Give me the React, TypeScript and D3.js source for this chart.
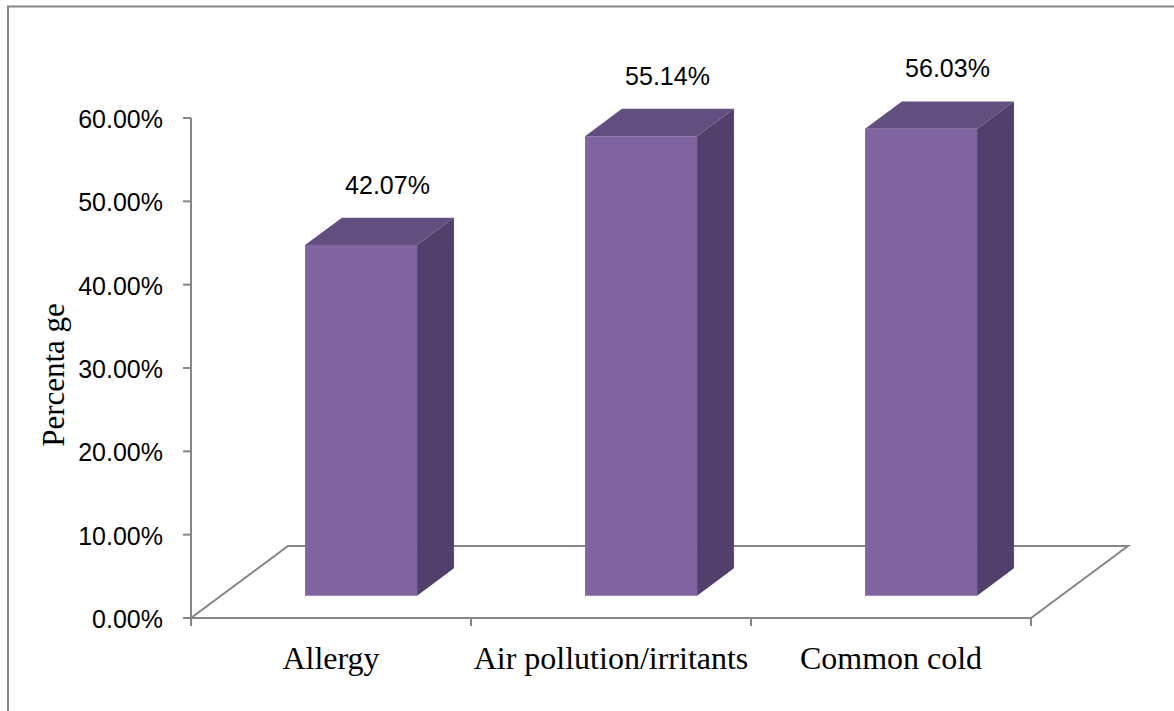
import React from 'react';
import * as d3 from 'd3';

// chart data
const categories = ['Allergy', 'Air pollution/irritants', 'Common cold'];
const values = [0.4207, 0.5514, 0.5603];
const yTicks = [0, 0.1, 0.2, 0.3, 0.4, 0.5, 0.6];
const yTitle = 'Percenta ge';

const W = 1174;
const H = 711;

// plot frame (front plane) and floor depth vector
const left = 191;
const right = 1031;
const bottom = 618;
const top = 118;
const depthX = 97;
const depthY = -72;
const zFront = 0.31;
const zBack = 0.69;

const App = () => {
  const x = d3.scaleBand<string>()
    .domain(categories)
    .range([left, right])
    .paddingInner(0.6)
    .paddingOuter(0.3);

  const y = d3.scaleLinear().domain([0, 0.6]).range([bottom, top]);
  const fmt = d3.format('.2%');

  // oblique projection: category x, value v, depth z (0..1)
  const proj = (px: number, v: number, z: number): [number, number] =>
    [px + z * depthX, y(v) + z * depthY];

  const axisColor = '#868686';
  const bw = x.bandwidth();

  const floor = [
    proj(left, 0, 0), proj(right, 0, 0), proj(right, 0, 1), proj(left, 0, 1)
  ];

  const poly = (pts: [number, number][]) => pts.map(p => p.join(',')).join(' ');

  const catTicks = [left, ...categories.map(c => (x(c) as number) + bw + x.step() * 0.3)];

  return (
    <svg width={W} height={H} style={{ position: 'absolute', left: 0, top: 0, background: '#fff' }}>
      <rect x={8} y={6.5} width={W + 20} height={H + 20} fill="#fff" stroke={axisColor} strokeWidth={2} />

      {/* floor */}
      <polygon points={poly(floor)} fill="none" stroke={axisColor} strokeWidth={2} strokeLinejoin="miter" />

      {/* y axis */}
      <line x1={left} x2={left} y1={top} y2={bottom} stroke={axisColor} strokeWidth={2} />
      {yTicks.map(t => (
        <g key={t}>
          <line x1={left - 8} x2={left} y1={y(t)} y2={y(t)} stroke={axisColor} strokeWidth={2} />
          <text x={163} y={y(t) + 10} textAnchor="end" fontFamily="Liberation Sans, Arial, sans-serif" fontSize={25} fill="#000">
            {fmt(t)}
          </text>
        </g>
      ))}

      {/* x axis ticks */}
      {catTicks.map((t, i) => (
        <line key={i} x1={t} x2={t} y1={bottom} y2={bottom + 8} stroke={axisColor} strokeWidth={2} />
      ))}

      {/* bars */}
      {categories.map((c, i) => {
        const v = values[i];
        const x0 = x(c) as number;
        const x1 = x0 + bw;
        const fTL = proj(x0, v, zFront);
        const fTR = proj(x1, v, zFront);
        const fBR = proj(x1, 0, zFront);
        const fBL = proj(x0, 0, zFront);
        const bTL = proj(x0, v, zBack);
        const bTR = proj(x1, v, zBack);
        const bBR = proj(x1, 0, zBack);
        const topCx = (fTL[0] + bTR[0]) / 2;
        return (
          <g key={c}>
            <polygon points={poly([fTL, fTR, fBR, fBL])} fill="#8064a2" />
            <polygon points={poly([fTR, bTR, bBR, fBR])} fill="#523f6b" />
            <polygon points={poly([fTL, bTL, bTR, fTR])} fill="#634f7f" />
            <text x={topCx + 8} y={bTL[1] - 24} textAnchor="middle" fontFamily="Liberation Sans, Arial, sans-serif" fontSize={25} fill="#000">
              {fmt(v)}
            </text>
          </g>
        );
      })}

      {/* category labels */}
      {categories.map(c => (
        <text key={c} x={(x(c) as number) + bw / 2} y={669} textAnchor="middle" fontFamily="Liberation Serif, Times New Roman, serif" fontSize={32} fill="#000">
          {c}
        </text>
      ))}

      <text transform={`translate(64,${(top + bottom) / 2 + 7}) rotate(-90)`} textAnchor="middle" fontFamily="Liberation Serif, Times New Roman, serif" fontSize={31} fill="#000">
        {yTitle}
      </text>
    </svg>
  );
};

export default App;
